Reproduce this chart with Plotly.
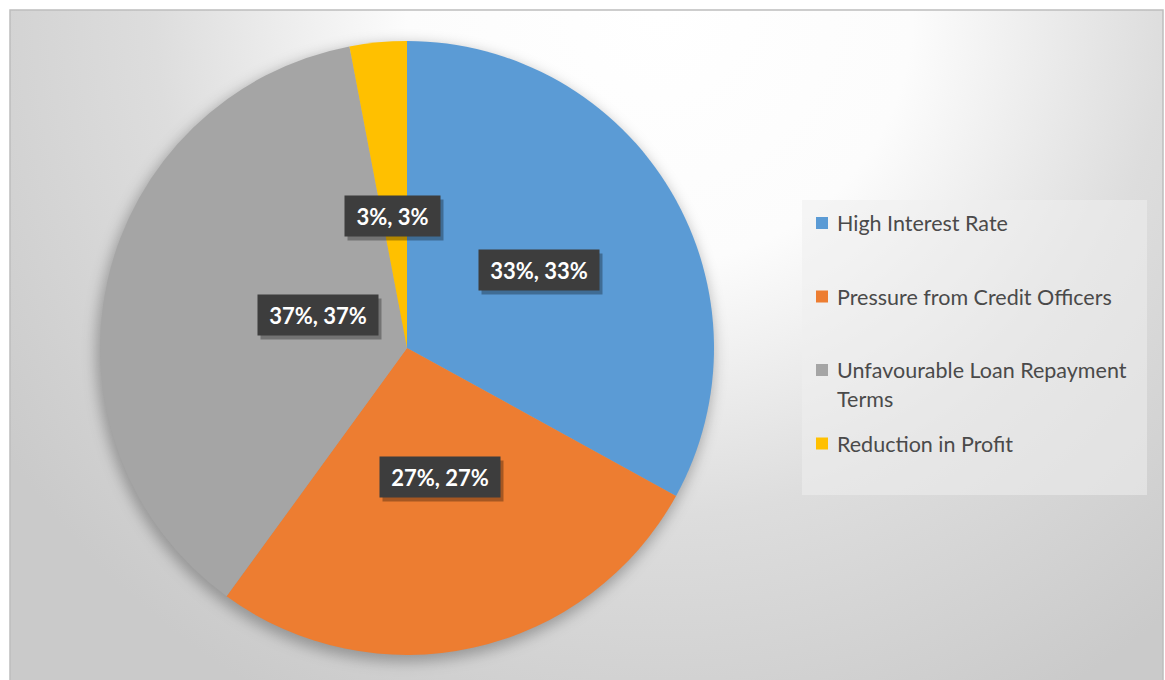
import base64
import math
import plotly.graph_objects as go

# Survey data: reasons cited
categories = [
    "High Interest Rate",
    "Pressure from Credit Officers",
    "Unfavourable Loan Repayment Terms",
    "Reduction in Profit",
]
values = [33, 27, 37, 3]
colors = ["#5B9BD5", "#ED7D31", "#A5A5A5", "#FFC000"]

W, H = 1165, 680
# pie geometry in pixels
CX, CY, R = 407, 348, 307
# chart area frame in pixels
AX0, AY0, AX1, AY1 = 10, 10, 1163, 680


def px(x):
    return x / W


def py(y):
    return 1 - y / H


# background: radial gradient with a soft shadow under the pie
aw, ah = AX1 - AX0, AY1 - AY0
svg = f"""<svg xmlns='http://www.w3.org/2000/svg' width='{aw}' height='{ah}' viewBox='0 0 {aw} {ah}'>
<defs>
<radialGradient id='g' gradientUnits='userSpaceOnUse' cx='650' cy='0' r='790'>
<stop offset='0' stop-color='#ffffff'/>
<stop offset='0.32' stop-color='#fcfcfc'/>
<stop offset='0.64' stop-color='#dddddd'/>
<stop offset='1' stop-color='#cacaca'/>
</radialGradient>
<filter id='b' x='-20%' y='-20%' width='140%' height='140%'><feGaussianBlur stdDeviation='7'/></filter>
</defs>
<rect x='0' y='0' width='{aw}' height='{ah}' fill='url(#g)'/>
<circle cx='{CX - AX0 - 2}' cy='{CY - AY0 + 5}' r='{R + 2}' fill='#000' fill-opacity='0.28' filter='url(#b)'/>
</svg>"""
bg_src = "data:image/svg+xml;base64," + base64.b64encode(svg.encode()).decode()

fig = go.Figure()
fig.add_trace(
    go.Pie(
        labels=categories,
        values=values,
        sort=False,
        direction="clockwise",
        rotation=0,
        marker=dict(colors=colors, line=dict(width=0)),
        textinfo="none",
        hoverinfo="label+value+percent",
        showlegend=False,
        domain=dict(x=[px(CX - R), px(CX + R)], y=[py(CY + R), py(CY - R)]),
    )
)

annotations = []
shapes = []

# approximate glyph advance (em) for the bold label font, used to size boxes
ADV = {"%": 0.86, ",": 0.26, " ": 0.26}
LABEL_SIZE = 22


def text_width(s, size):
    return sum(ADV.get(c, 0.58) for c in s) * size


# data labels: dark boxes at half radius on each slice's mid-angle
total = sum(values)
cum = 0
for v in values:
    mid = 2 * math.pi * (cum + v / 2) / total
    cum += v
    lx = CX + 0.5 * R * math.sin(mid)
    ly = CY - 0.5 * R * math.cos(mid)
    pct = round(100 * v / total)
    txt = f"{v}%, {pct}%"
    bw = round(text_width(txt, LABEL_SIZE)) + 4
    # drop shadow box
    annotations.append(dict(
        x=px(lx), y=py(ly), xref="paper", yref="paper", text=" ",
        showarrow=False, xshift=3, yshift=-4, width=bw, height=24,
        font=dict(family="Lato", size=LABEL_SIZE, color="rgba(0,0,0,0)"),
        bgcolor="rgba(0,0,0,0.30)", borderpad=8,
    ))
    annotations.append(dict(
        x=px(lx), y=py(ly), xref="paper", yref="paper", text=txt,
        showarrow=False, width=bw, height=24,
        font=dict(family="Lato", size=LABEL_SIZE, color="#ffffff", weight="bold"),
        bgcolor="#3d3d3d", borderpad=8,
    ))

# legend box
LX0, LY0, LX1, LY1 = 802, 200, 1147, 495
shapes.append(dict(
    type="rect", xref="paper", yref="paper",
    x0=px(LX0), x1=px(LX1), y0=py(LY1), y1=py(LY0),
    fillcolor="rgba(238,238,238,0.55)", line=dict(width=0), layer="below",
))


def wrap(label, limit=29):
    words, lines, cur = label.split(), [], ""
    for w in words:
        if cur and len(cur) + 1 + len(w) > limit:
            lines.append(cur)
            cur = w
        else:
            cur = (cur + " " + w).strip()
    lines.append(cur)
    return lines


item_y0, item_pitch, line_pitch = 223, 73.5, 29
mx0, msz, tx = 816, 12, 835
for i, (lab, col) in enumerate(zip(categories, colors)):
    yc = item_y0 + i * item_pitch
    shapes.append(dict(
        type="rect", xref="paper", yref="paper",
        x0=px(mx0), x1=px(mx0 + msz), y0=py(yc + msz / 2), y1=py(yc - msz / 2),
        fillcolor=col, line=dict(width=0),
    ))
    for j, line in enumerate(wrap(lab)):
        annotations.append(dict(
            x=px(tx), y=py(yc + j * line_pitch), xref="paper", yref="paper",
            text=line, showarrow=False, xanchor="left", yanchor="middle",
            font=dict(family="Lato", size=21.5, color="#4a4a4a"),
        ))

# chart area frame
shapes.append(dict(
    type="rect", xref="paper", yref="paper",
    x0=px(AX0), x1=px(AX1), y0=py(AY1 + 2), y1=py(AY0),
    line=dict(color="#bdbdbd", width=1.5), fillcolor="rgba(0,0,0,0)",
    layer="above",
))

fig.update_layout(
    width=W, height=H,
    margin=dict(l=0, r=0, t=0, b=0),
    paper_bgcolor="#ffffff",
    plot_bgcolor="#ffffff",
    showlegend=False,
    annotations=annotations,
    shapes=shapes,
    images=[dict(
        source=bg_src, xref="paper", yref="paper",
        x=px(AX0), y=py(AY0), sizex=px(AX1) - px(AX0), sizey=py(AY0) - py(AY1),
        xanchor="left", yanchor="top", sizing="stretch", layer="below",
    )],
)

fig.write_html("out.html")
